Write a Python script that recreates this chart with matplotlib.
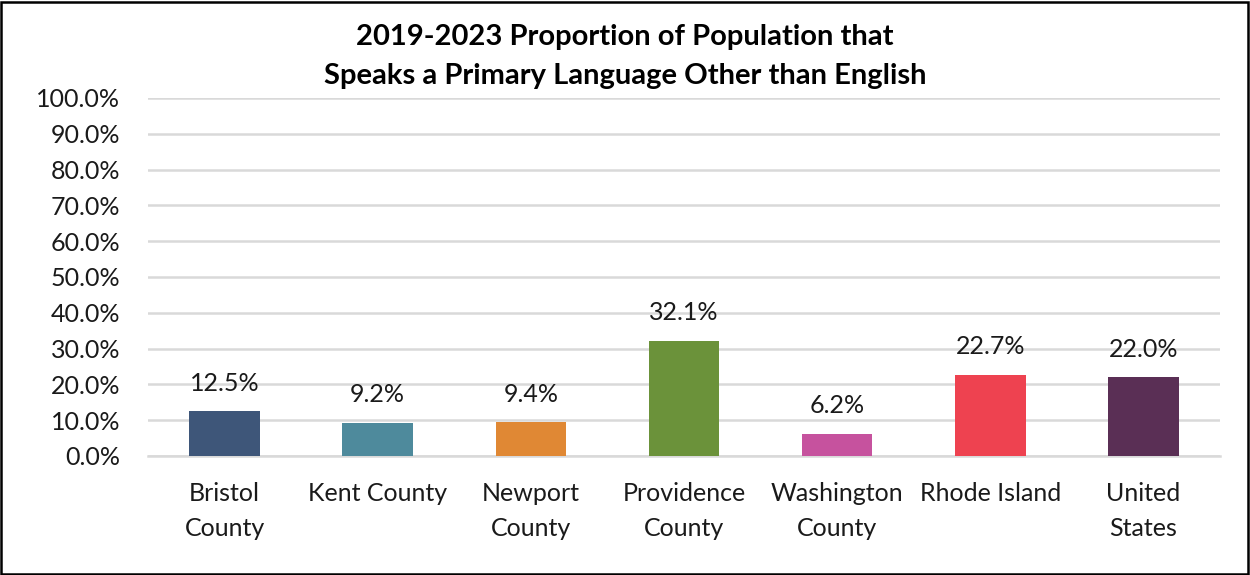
import matplotlib.pyplot as plt
from matplotlib.patches import Rectangle
from matplotlib.ticker import FuncFormatter

plt.rcParams['font.family'] = ['Lato', 'DejaVu Sans']

# ACS 2019-2023 share of residents speaking a language other than English
areas = ['Bristol\nCounty', 'Kent County', 'Newport\nCounty', 'Providence\nCounty',
         'Washington\nCounty', 'Rhode Island', 'United\nStates']
pct_other_lang = [12.5, 9.2, 9.4, 32.1, 6.2, 22.7, 22.0]
bar_colors = ['#3E5679', '#4E8A9C', '#E08834', '#6B923A', '#C6529E', '#EE4250', '#5A2F55']
y_ticks = [0, 10, 20, 30, 40, 50, 60, 70, 80, 90, 100]

fig = plt.figure(figsize=(12.5, 5.75), dpi=100)
ax = fig.add_axes([0.1184, 0.207, 0.8576, 0.6226])

x = range(len(areas))
ax.bar(x, pct_other_lang, width=0.46, color=bar_colors, zorder=3)

# value labels above each bar
for xi, v in zip(x, pct_other_lang):
    ax.annotate(f'{v:.1f}%', (xi, v), xytext=(0, 12), textcoords='offset points',
                ha='center', va='bottom', fontsize=18, color='#1a1a1a')

ax.set_xlim(-0.5, len(areas) - 0.5)
ax.set_ylim(0, 100)
ax.set_yticks(y_ticks)
ax.yaxis.set_major_formatter(FuncFormatter(lambda v, _: f'{v:.1f}%'))
ax.set_xticks(list(x))
ax.set_xticklabels(areas, fontsize=18, linespacing=1.65)
ax.tick_params(axis='both', length=0, labelsize=18, labelcolor='#1a1a1a')
ax.tick_params(axis='x', pad=18.5)
ax.tick_params(axis='y', pad=20)

ax.grid(axis='y', color='#d9d9d9', linewidth=1.8, zorder=0)
for side in ['top', 'right', 'left']:
    ax.spines[side].set_visible(False)
ax.spines['bottom'].set_color('#d9d9d9')
ax.spines['bottom'].set_linewidth(1.8)

fig.text(0.5, 0.936, '2019-2023 Proportion of Population that', ha='center', va='center',
         fontsize=21, fontweight='bold')
fig.text(0.5, 0.867, 'Speaks a Primary Language Other than English', ha='center', va='center',
         fontsize=21, fontweight='bold')

# outer chart border
fig.add_artist(Rectangle((0.001, 0.002), 0.997, 0.995, transform=fig.transFigure,
                         fill=False, edgecolor='black', linewidth=1.8))

fig.savefig('out.png', dpi=100)
